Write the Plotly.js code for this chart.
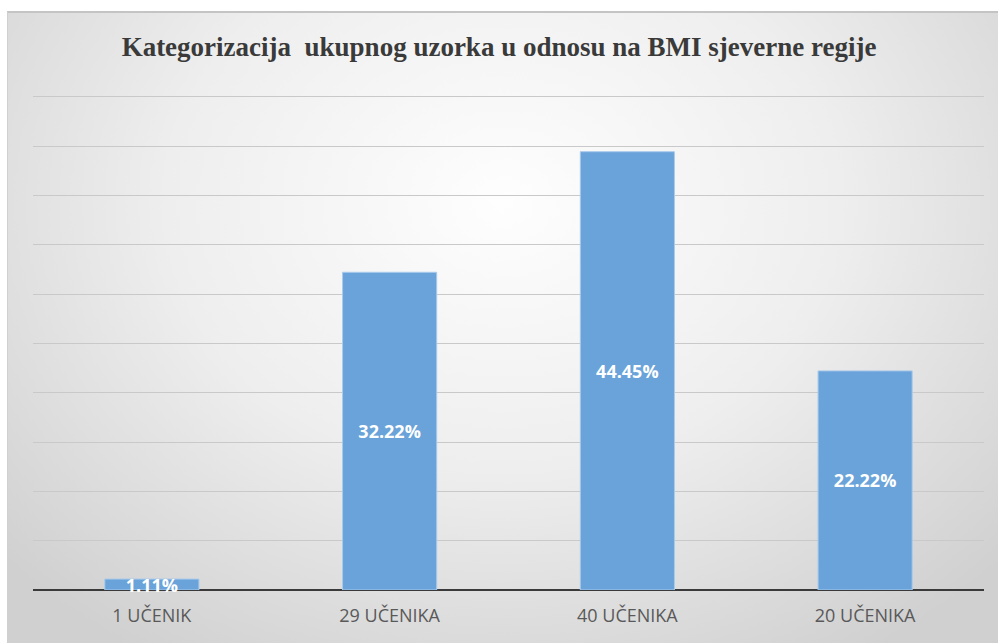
<!DOCTYPE html>
<html>
<head>
<meta charset="utf-8">
<script src="https://cdn.plot.ly/plotly-3.0.1.min.js"></script>
<style>
  html, body { margin: 0; padding: 0; background: #ffffff; width: 998px; height: 643px; overflow: hidden; }
  #bg { position: absolute; left: 7px; top: 11px; width: 991px; height: 632px;
        background: radial-gradient(ellipse 68% 85% at 50% 30%, #fefefe 0%, #eeeeee 50%, #d0d0d0 100%);
        border-top: 2px solid #c4c4c4; border-left: 1px solid #d0d0d0; box-sizing: border-box; }
  #chart { position: absolute; left: 0; top: 0; width: 998px; height: 643px; }
</style>
</head>
<body>
<div id="bg"></div>
<div id="chart"></div>
<script>
const categories = ["1 UČENIK", "29 UČENIKA", "40 UČENIKA", "20 UČENIKA"];
const percentages = [1.11, 32.22, 44.45, 22.22];
const labels = ["1.11%", "32.22%", "44.45%", "22.22%"];
const chartTitle = "Kategorizacija  ukupnog uzorka u odnosu na BMI sjeverne regije";

const trace = {
  type: "bar",
  x: categories,
  y: percentages,
  text: labels,
  textposition: "inside",
  insidetextanchor: "middle",
  constraintext: "none",
  textfont: { family: "'Open Sans', Arial, sans-serif", size: 18, color: "#ffffff", weight: "bold" },
  marker: { color: "#6aa3d9", line: { color: "#a9cbec", width: 1 } },
  hoverinfo: "none",
  cliponaxis: false
};

const layout = {
  width: 998,
  height: 643,
  paper_bgcolor: "rgba(0,0,0,0)",
  plot_bgcolor: "rgba(0,0,0,0)",
  margin: { l: 33, r: 14, t: 94, b: 53 },
  title: {
    text: "<b>" + chartTitle + "</b>",
    font: { family: "'Liberation Serif', 'Times New Roman', serif", size: 27, color: "#3a3a3a" },
    x: 0.5, xanchor: "center", y: 0.927, yanchor: "middle"
  },
  bargap: 0.604,
  showlegend: false,
  xaxis: {
    type: "category",
    showgrid: false,
    showline: false,
    ticks: "",
    tickfont: { family: "'Open Sans', Arial, sans-serif", size: 18, color: "#595959" },
    ticklabelstandoff: 13
  },
  yaxis: {
    range: [0, 50.3],
    tick0: 0,
    dtick: 5,
    showticklabels: false,
    showgrid: true,
    gridcolor: "#c9c9c9",
    gridwidth: 1,
    zeroline: true,
    zerolinecolor: "#3a3a3a",
    zerolinewidth: 2,
    showline: false,
    fixedrange: true
  }
};

Plotly.newPlot("chart", [trace], layout, { displayModeBar: false, staticPlot: true });
</script>
</body>
</html>
